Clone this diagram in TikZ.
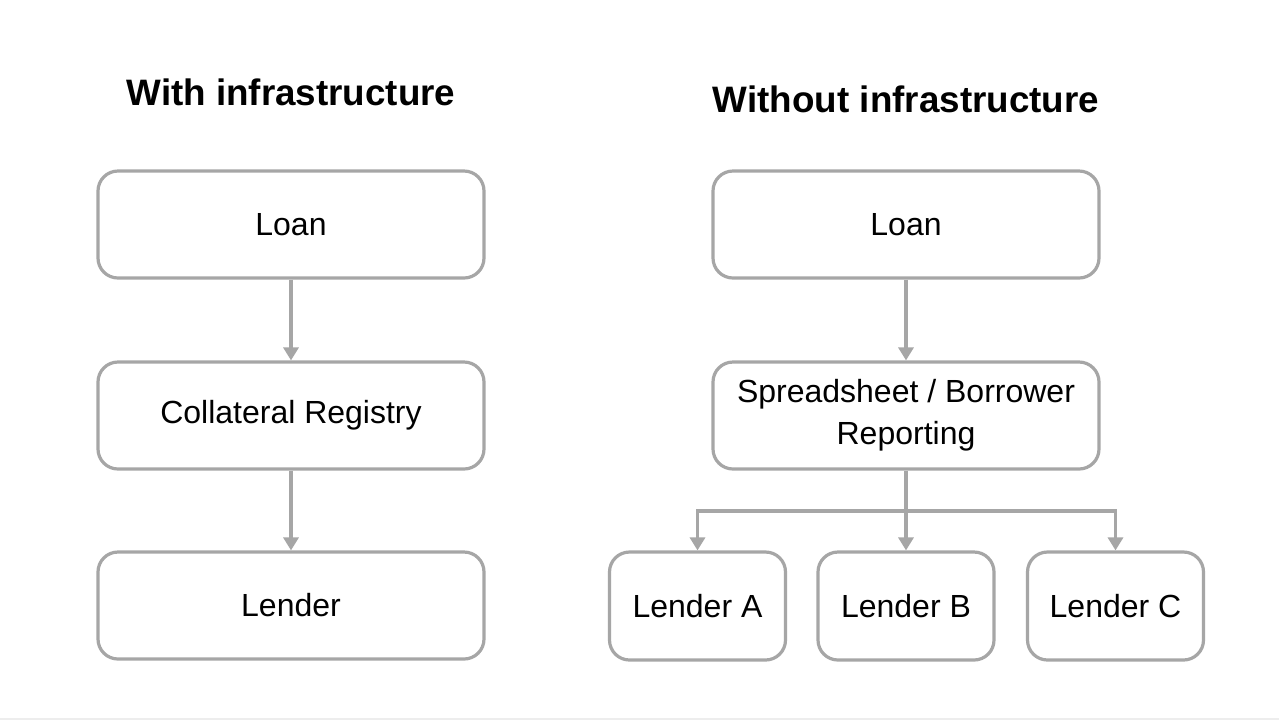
\documentclass[tikz,border=0pt]{standalone}
\usepackage{fontspec}
\setmainfont{Liberation Sans}
\usetikzlibrary{arrows.meta}
\definecolor{linegray}{HTML}{A6A6A6}
\definecolor{edgegray}{HTML}{EDEDED}
\tikzset{
  box/.style={draw=linegray, line width=1.6pt, rounded corners=10pt, fill=white,
    minimum width=193pt, minimum height=53.5pt, align=center, font=\fontsize{16}{21}\selectfont, inner sep=2pt},
  smallbox/.style={box, minimum width=88pt, minimum height=54pt},
  heading/.style={font=\fontsize{18.4}{22}\selectfont\bfseries},
  conn/.style={draw=linegray, line width=1.6pt, -{Triangle[width=7.5pt,length=6.5pt]}},
}
\begin{document}
\begin{tikzpicture}[x=0.5pt, y=-0.5pt]
\useasboundingbox (0,0) rectangle (1279,720);
\fill[white] (0,0) rectangle (1279,720);
\draw[edgegray, line width=1pt] (0,719) -- (1279,719);

\node[heading] (h1) at (291,92) {With infrastructure};
\node[heading] (h2) at (906,99) {Without infrastructure};

\node[box] (loan1) at (291,224.5) {Loan};
\node[box] (reg) at (291,415.5) {Collateral Registry};
\node[box] (lender) at (291,605.5) {Lender};

\node[box] (loan2) at (906,224.5) {Loan};
\node[box] (sheet) at (906,415.5) {Spreadsheet / Borrower\\Reporting};
\node[smallbox] (la) at (697.5,606) {Lender A};
\node[smallbox] (lb) at (906,606) {Lender B};
\node[smallbox] (lc) at (1115.5,606) {Lender C};

\coordinate (split) at (906,511);

\draw[conn] (loan1) -- (reg);
\draw[conn] (reg) -- (lender);
\draw[conn] (loan2) -- (sheet);
\draw[draw=linegray, line width=1.6pt] (sheet.south) -- (split);
\draw[conn] (split) -| (la.north);
\draw[conn] (split) -- (lb.north);
\draw[conn] (split) -| (lc.north);
\end{tikzpicture}
\end{document}
